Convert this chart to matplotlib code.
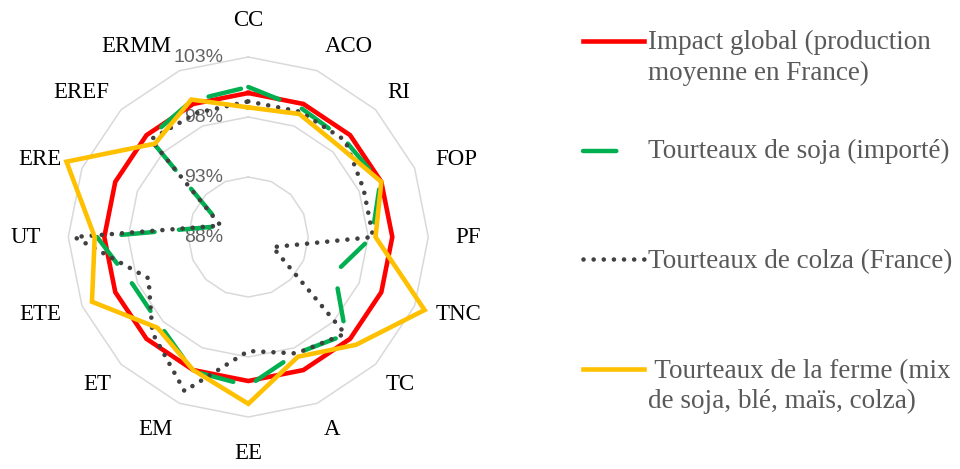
import numpy as np
import matplotlib
matplotlib.use('Agg')
import matplotlib.pyplot as plt
from matplotlib.lines import Line2D

# categories (clockwise from the top)
categories = ['CC', 'ACO', 'RI', 'FOP', 'PF', 'TNC', 'TC', 'A',
              'EE', 'EM', 'ET', 'ETE', 'UT', 'ERE', 'EREF', 'ERMM']

# values in %
impact_global = [100, 100, 100, 100, 100, 100, 100, 100,
                 100, 100, 100, 100, 100, 100, 100, 100]
soja = [100.5, 99.6, 99.4, 99.9, 98.3, 95.8, 99.5, 98.5,
        100.4, 100.1, 98.4, 98.4, 100.6, 90.4, 99.7, 100.3]
colza = [99.3, 99.3, 99.4, 98.4, 98.4, 90.2, 99.4, 98.5,
         97.5, 101.9, 99.3, 97.0, 102.5, 90.5, 99.5, 99.2]
ferme = [98.8, 99.1, 98.7, 100.0, 98.6, 103.9, 100.7, 98.8,
         101.9, 100.0, 98.7, 102.1, 100.8, 104.4, 99.0, 100.4]

rings = [93, 98, 103]
ring_labels = ['88%', '93%', '98%', '103%']
ring_label_values = [88, 93, 98, 103]

legend_labels = [['Impact global (production', 'moyenne en France)'],
                 ['Tourteaux de soja (importé)'],
                 ['Tourteaux de colza (France)'],
                 [' Tourteaux de la ferme (mix', 'de soja, blé, maïs, colza)']]

n = len(categories)
theta = np.arange(n) * 2 * np.pi / n
theta_closed = np.append(theta, theta[0])
px_per_unit = 12.0


def closed(vals):
    return np.append(vals, vals[0])


fig = plt.figure(figsize=(9.6, 4.69), dpi=100)
ax = fig.add_axes([32.3 / 960, 16 / 469, 432 / 960, 432 / 469], projection='polar')
ax.set_theta_zero_location('N')
ax.set_theta_direction(-1)
ax.set_ylim(88, 106)
ax.grid(False)
ax.set_xticks([])
ax.set_yticks([])
ax.spines['polar'].set_visible(False)
ax.patch.set_visible(False)

# polygon gridlines
for r in rings:
    ax.plot(theta_closed, [r] * (n + 1), color='#d9d9d9', lw=1.1, zorder=1)

styles = [
    dict(color='#ff0000', lw=3.3, linestyle='-'),
    dict(color='#00b050', lw=3.2, linestyle=(0, (7.5, 5.5)), dash_capstyle='round'),
    dict(color='#404040', lw=3.3, linestyle=(0, (0.01, 2.2)), dash_capstyle='round'),
    dict(color='#ffc000', lw=3.3, linestyle='-'),
]
series = [impact_global, soja, colza, ferme]

for vals, st in zip(series, styles):
    ax.plot(theta_closed, closed(vals), solid_joinstyle='miter', zorder=3, **st)

# category labels, anchored on the side facing the centre
for t, lab in zip(theta, categories):
    s, c = np.sin(t), np.cos(t)
    k = abs(np.cos(2 * t)) ** 4
    ha = 'left' if s > 0.3 else ('right' if s < -0.3 else 'center')
    if c > 0.5:
        va, rad = 'baseline', 197 + 14 * k
    elif c < -0.5:
        va, rad = 'top', 194 + 12 * k
    else:
        va, rad = 'center', 201 + 6 * k
    ax.text(t, 88 + rad / px_per_unit, lab, ha=ha, va=va, fontsize=16.5,
            family='Liberation Serif', color='black')

# radial labels
for v, lab in zip(ring_label_values, ring_labels):
    ax.annotate(lab, xy=(0, v), xytext=(-18, 0), textcoords='offset points',
                ha='right', va='center', fontsize=14, family='Liberation Sans',
                color='#626262', zorder=2)

# legend drawn by hand so the key lines up with the first text line
W, H = 960.0, 469.0
key_y = [40.7, 150.7, 259.3, 369.3]
key_x1 = [644, 626, 644, 644]
base_y = [[49, 80], [158.3], [267.7], [377.7, 408.3]]
for st, ky, kx1, lines, bys in zip(styles, key_y, key_x1, legend_labels, base_y):
    fig.add_artist(Line2D([583 / W, kx1 / W], [1 - ky / H, 1 - ky / H],
                          transform=fig.transFigure, **st))
    for txt, by in zip(lines, bys):
        fig.text(648 / W, 1 - by / H, txt, ha='left', va='baseline',
                 fontsize=19.5, family='Liberation Serif', color='#595959')

fig.savefig('out.png', dpi=100)
